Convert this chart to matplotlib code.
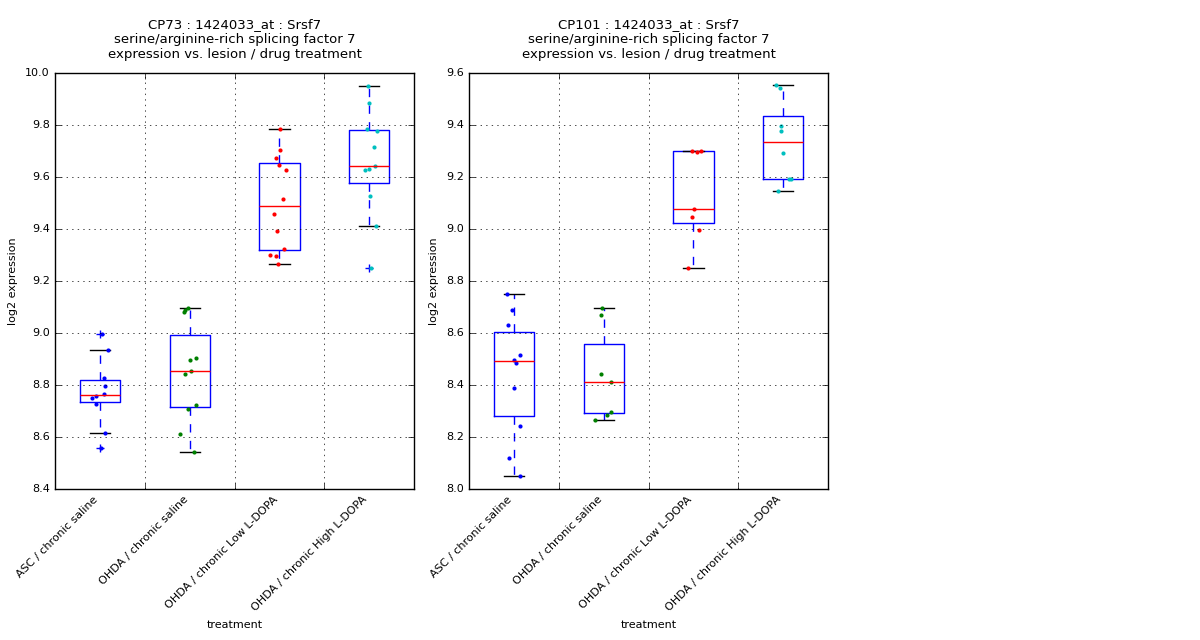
import matplotlib
matplotlib.use("Agg")
import matplotlib.pyplot as plt

plt.style.use("classic")
plt.rcParams["font.family"] = ["DejaVu Sans"]

groups = ["ASC / chronic saline", "OHDA / chronic saline",
          "OHDA / chronic Low L-DOPA", "OHDA / chronic High L-DOPA"]
point_colors = ["b", "g", "r", "c"]

# CP73
cp73_asc = [8.996, 8.935, 8.828, 8.797, 8.767, 8.756, 8.75, 8.728, 8.617, 8.558]
cp73_sal = [9.096, 9.087, 9.079, 8.904, 8.896, 8.855, 8.842, 8.724, 8.709, 8.613, 8.544]
cp73_low = [9.785, 9.704, 9.673, 9.647, 9.627, 9.515, 9.458, 9.392, 9.324, 9.30, 9.296, 9.265]
cp73_high = [9.95, 9.886, 9.785, 9.778, 9.715, 9.644, 9.632, 9.628, 9.528, 9.412, 9.25]
cp73_jit = [
    [.02, .085, .04, .06, .04, -.05, -.085, -.04, .06, .015],
    [-.025, -.05, -.06, .075, .005, .015, -.05, .075, -.02, -.11, .05],
    [.005, .005, -.035, 0, .075, .035, -.065, -.03, .05, -.105, -.04, -.015],
    [-.01, 0, -.02, .09, .05, .065, 0, -.05, .01, .08, .02],
]

# CP101
cp101_asc = [8.751, 8.688, 8.631, 8.517, 8.497, 8.486, 8.39, 8.244, 8.12, 8.051]
cp101_sal = [8.696, 8.669, 8.444, 8.413, 8.297, 8.285, 8.265]
cp101_low = [9.301, 9.297, 9.301, 9.077, 9.046, 8.997, 8.85]
cp101_high = [9.554, 9.544, 9.397, 9.378, 9.294, 9.192, 9.192, 9.146]
cp101_jit = [
    [-.08, -.025, -.07, .065, .005, .02, 0, .065, -.06, .065],
    [-.02, -.03, -.03, .08, .08, .035, -.1],
    [-.015, .04, .085, .005, -.015, .065, -.06],
    [-.085, -.035, -.02, -.02, 0, .07, .09, -.06],
]

panels = [
    ("CP73", [cp73_asc, cp73_sal, cp73_low, cp73_high], cp73_jit, (8.4, 10.0)),
    ("CP101", [cp101_asc, cp101_sal, cp101_low, cp101_high], cp101_jit, (8.0, 9.6)),
]

positions = [0.5, 1.5, 2.5, 3.5]
fig = plt.figure(figsize=(12, 6.4), dpi=100, facecolor="white")
lefts = [0.046, 0.391]

for left, (name, data, jit, ylim) in zip(lefts, panels):
    ax = fig.add_axes([left, 0.236, 0.299, 0.65])
    ax.boxplot(data, positions=positions, widths=0.45,
               boxprops=dict(color="b"),
               whiskerprops=dict(color="b", linestyle="--"),
               capprops=dict(color="k"),
               medianprops=dict(color="r"),
               flierprops=dict(marker="+", markeredgecolor="b", markersize=6))
    for i, (vals, offs) in enumerate(zip(data, jit)):
        xs = [positions[i] + o for o in offs]
        ax.plot(xs, vals, "o", color=point_colors[i], markersize=3,
                markeredgewidth=0, linestyle="none")
    ax.set_ylim(*ylim)
    ax.set_xlim(0, 4)
    ax.set_xticks([1, 2, 3])
    ax.set_xticklabels([])
    ax.set_xticks(positions, minor=True)
    ax.set_xticklabels(groups, minor=True, rotation=45, ha="right", fontsize=8)
    ax.tick_params(axis="x", which="minor", length=0)
    ax.grid(True, which="major")
    ax.tick_params(axis="y", labelsize=8)
    ax.set_ylabel("log2 expression", fontsize=8)
    ax.set_xlabel("treatment", fontsize=8)
    ax.set_title("%s : 1424033_at : Srsf7\nserine/arginine-rich splicing factor 7\n"
                 "expression vs. lesion / drug treatment" % name, fontsize=9.5, y=1.02)

fig.savefig("out.png", dpi=100, facecolor="white")
